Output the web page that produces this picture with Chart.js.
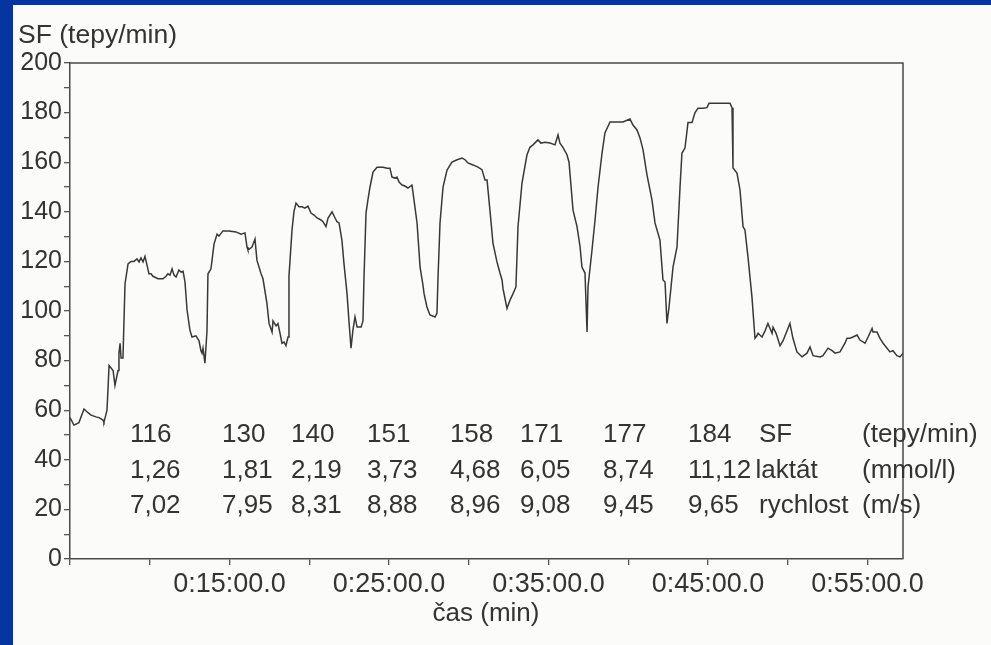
<!DOCTYPE html>
<html>
<head>
<meta charset="utf-8">
<script src="https://cdn.jsdelivr.net/npm/chart.js@4.4.1/dist/chart.umd.min.js"></script>
<style>
  html, body { margin: 0; padding: 0; background: #0535a0; }
  #wrap { position: absolute; left: 0; top: 0; width: 991px; height: 645px; }
</style>
</head>
<body>
<div id="wrap"><canvas id="c" width="991" height="645"></canvas></div>
<script>
// ---- Data (time in minutes, heart rate in beats/min) ----
const timeMin = [5.00,5.25,5.56,5.88,6.13,6.32,6.63,6.82,7.07,7.13,7.32,7.45,7.70,7.82,8.01,8.07,8.14,8.20,8.32,8.45,
8.64,8.82,9.01,9.20,9.33,9.45,9.58,9.70,9.83,9.95,10.08,10.20,10.52,10.83,11.02,11.14,11.27,11.40,11.52,11.65,
11.83,11.96,12.09,12.21,12.34,12.52,12.65,12.90,13.09,13.21,13.28,13.34,13.46,13.59,13.65,13.84,14.03,14.22,14.34,14.59,
14.97,15.41,15.72,15.97,16.10,16.16,16.41,16.60,16.72,16.98,17.10,17.35,17.48,17.67,17.73,17.92,18.04,18.17,18.29,18.42,
18.54,18.67,18.73,18.92,19.04,19.17,19.36,19.55,19.73,19.92,20.11,20.30,20.49,20.74,20.86,21.05,21.18,21.43,21.62,21.74,
21.87,22.05,22.18,22.37,22.49,22.62,22.74,22.87,23.00,23.25,23.37,23.43,23.56,23.68,23.81,24.00,24.25,24.63,24.88,25.06,
25.19,25.38,25.50,25.63,25.82,26.00,26.19,26.44,26.51,26.76,26.95,27.13,27.20,27.38,27.57,27.89,28.01,28.07,28.20,28.39,
28.64,28.95,29.27,29.58,29.77,29.95,30.27,30.58,30.83,31.02,31.15,31.33,31.52,31.77,31.96,32.09,32.15,32.40,32.59,32.78,
32.96,33.09,33.34,33.65,33.84,34.03,34.34,34.53,34.78,35.10,35.41,35.60,35.72,35.91,36.16,36.29,36.54,36.79,36.98,37.10,
37.29,37.42,37.48,37.73,37.92,38.11,38.36,38.54,38.86,39.30,39.67,40.11,40.30,40.55,40.74,40.93,41.18,41.49,41.68,41.99,
42.18,42.31,42.43,42.56,42.81,43.06,43.25,43.37,43.56,43.75,44.00,44.19,44.38,44.69,44.94,45.07,46.38,46.51,46.57,46.82,
47.01,47.20,47.32,47.51,47.76,47.95,48.07,48.14,48.39,48.58,48.76,49.02,49.08,49.27,49.52,49.71,49.96,50.14,50.33,50.58,
50.90,51.21,51.40,51.59,52.03,52.21,52.53,52.78,52.97,53.28,53.59,53.72,53.91,54.09,54.35,54.53,54.85,55.04,55.29,55.35,
55.60,55.79,55.98,56.23,56.41,56.60,56.85,57.04,57.23];

const heartRate = [57,54,55,60.5,59,58,57.3,57,56,55.2,60,78,76,70,76,83,87,81,81,111,
119,120,120,121,119.8,121.4,119.8,122,118.5,115,115,114,113,113,114,115,114.5,117,114.5,113.7,
116.5,115.7,116,111.7,100.4,92.3,89.5,90,88,84,83,85,79,92,115,117,127,131,130.2,132.3,
132.3,131.9,131,131.5,125.8,124.6,125.8,129,120.5,115,113,103,95,91.5,96,94,95,91,87,87.5,
86,89.5,114,132.6,140,143.5,142,142,141.5,142.3,139.5,138.7,137.5,136.7,136,134,137.5,140,137.5,136,
135.5,128.6,119,107,96,85,92.3,97.6,93.5,93.5,96,112.5,139.5,144.8,150,156,158,158,157.6,157.6,
154,153.6,154,152,150.8,150.4,149.6,150.8,147.6,135.5,117.7,110.5,107,101.6,98.4,97.6,99.2,112.5,135.5,150,
156.8,160,161,161.7,161,159.7,158.9,158,157,152.8,152.8,140.7,127.4,119.8,115.3,112.5,109,101,104.4,107,
109.7,134,151.6,162.9,166,167,169,167.7,168,167.7,167,171,167.7,166,163,160,140.7,134,126,117.7,
115.3,91.5,109.7,124.6,136.7,150,163.7,171.8,176.2,176.2,176.2,177.4,175,173,169.8,165,154.8,144.8,135.5,128.6,
112.5,111.7,95,101.6,117.7,125.8,150,163.7,165.7,176,176,180,181.8,181.8,182,183.8,183.8,182,157.7,155.6,
148.8,134,132.7,121.8,105.6,89,90,91,89.5,92,95,91,93.5,91,86,88,92,95,89,83.5,
81.5,83,85.5,82,81.5,82,85,84,83,83.5,87,89,89,89.5,90.3,88.3,87,89.5,93,91.5,
91.5,89,87,85,83.5,84,82,81.5,83];

// Stage table
const stageSF       = ['116','130','140','151','158','171','177','184'];
const stageLaktat   = ['1,26','1,81','2,19','3,73','4,68','6,05','8,74','11,12'];
const stageRychlost = ['7,02','7,95','8,31','8,88','8,96','9,08','9,45','9,65'];
const stageLabelMin = [8.76,14.53,18.86,23.62,28.82,33.21,38.42,43.75];
const rowNames = ['SF','laktát','rychlost'];
const rowNameMin = [48.20,47.98,48.20];
const rowUnits = ['(tepy/min)','(mmol/l)','(m/s)'];
const unitMin = 54.66;
const rowLevels = [50.0,35.6,21.5];

// Axis ticks
const xTickMinutes = [5,10,15,20,25,30,35,40,45,50,55];
const xLabelMinutes = [15,25,35,45,55];

const FONT = '"Liberation Sans", Arial, sans-serif';
const TXT = '#333333';

const points = timeMin.map((t, i) => ({ x: t, y: heartRate[i] }));

const paperPlugin = {
  id: 'paper',
  beforeDraw(chart) {
    const ctx = chart.ctx;
    ctx.save();
    ctx.fillStyle = '#0535a0';
    ctx.fillRect(0, 0, chart.width, chart.height);
    ctx.fillStyle = '#fbfbf9';
    ctx.fillRect(13, 5, chart.width - 13, chart.height - 5);
    ctx.restore();
  },
  afterDraw(chart) {
    const ctx = chart.ctx;
    const a = chart.chartArea;
    const xs = chart.scales.x, ys = chart.scales.y;
    ctx.save();
    ctx.strokeStyle = '#4a4a4a';
    ctx.lineWidth = 1.5;
    ctx.beginPath();
    ctx.moveTo(a.left, a.top); ctx.lineTo(a.right, a.top); ctx.lineTo(a.right, a.bottom);
    ctx.stroke();

    ctx.fillStyle = TXT;
    ctx.font = '26.5px ' + FONT;
    ctx.textAlign = 'left';
    ctx.textBaseline = 'alphabetic';
    ctx.fillText('SF (tepy/min)', 18, 43);
    ctx.font = '26px ' + FONT;
    ctx.textAlign = 'center';
    ctx.fillText('čas (min)', 486, 621);

    ctx.textAlign = 'left';
    ctx.textBaseline = 'middle';
    const rows = [stageSF, stageLaktat, stageRychlost];
    rows.forEach((row, r) => {
      const y = ys.getPixelForValue(rowLevels[r]);
      row.forEach((txt, i) => ctx.fillText(txt, xs.getPixelForValue(stageLabelMin[i]), y));
      ctx.fillText(rowNames[r], xs.getPixelForValue(rowNameMin[r]), y);
      ctx.fillText(rowUnits[r], xs.getPixelForValue(unitMin), y);
    });
    ctx.restore();
  }
};

new Chart(document.getElementById('c'), {
  type: 'line',
  data: {
    datasets: [{
      data: points,
      borderColor: '#383838',
      borderWidth: 1.5,
      pointRadius: 0,
      tension: 0,
      fill: false
    }]
  },
  options: {
    responsive: false,
    animation: false,
    events: [],
    layout: { padding: { left: 0, top: 63, right: 88, bottom: 0 } },
    plugins: { legend: { display: false }, tooltip: { enabled: false } },
    scales: {
      x: {
        type: 'linear',
        min: 5,
        max: 57.23,
        afterBuildTicks(scale) { scale.ticks = xTickMinutes.map(v => ({ value: v })); },
        afterFit(scale) { scale.height = 86; scale.paddingLeft = 0; scale.paddingRight = 0; },
        ticks: {
          autoSkip: false,
          maxRotation: 0,
          padding: 3,
          color: TXT,
          font: { family: FONT, size: 27 },
          callback(v) { return xLabelMinutes.includes(v) ? '0:' + v + ':00.0' : ''; }
        },
        grid: { drawOnChartArea: false, drawTicks: true, tickLength: 6, color: '#555', lineWidth: 1.3 },
        border: { display: true, color: '#4a4a4a', width: 1.5 }
      },
      y: {
        min: 0,
        max: 200,
        afterFit(scale) { scale.width = 70; scale.paddingTop = 0; scale.paddingBottom = 0; },
        ticks: {
          stepSize: 10,
          autoSkip: false,
          padding: 2,
          color: TXT,
          font: { family: FONT, size: 25 },
          callback(v) { return v % 20 === 0 ? String(v) : ''; }
        },
        grid: { drawOnChartArea: false, drawTicks: true, tickLength: 6, color: '#555', lineWidth: 1.3 },
        border: { display: true, color: '#4a4a4a', width: 1.5 }
      }
    }
  },
  plugins: [paperPlugin]
});
</script>
</body>
</html>
